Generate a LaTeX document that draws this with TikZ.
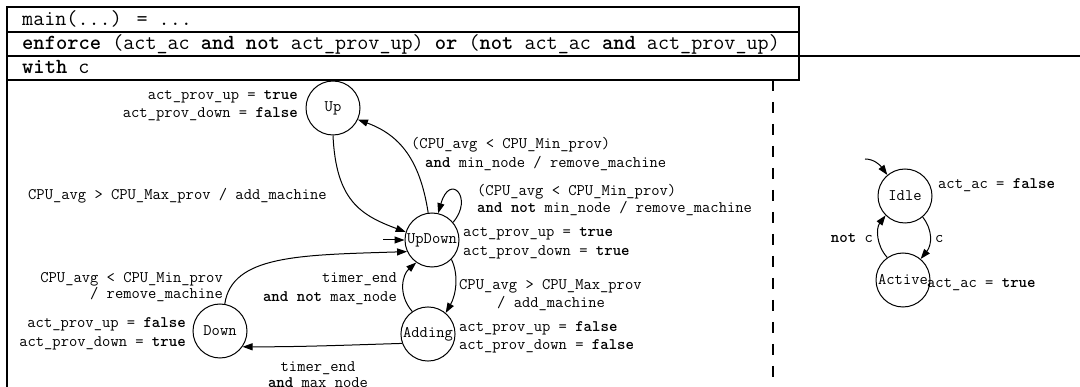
\documentclass[tikz,border=0pt]{standalone}
\usetikzlibrary{arrows.meta}
\newcommand\lblfont{\ttfamily\fontsize{16.1}{19}\selectfont}
\newcommand\tabfont{\ttfamily\fontsize{21.5}{25}\selectfont}
\begin{document}
\begin{tikzpicture}[x=1pt,y=-1pt,
  state/.style={draw,circle,minimum size=54pt,inner sep=1pt,line width=1pt,font=\lblfont},
  edge/.style={line width=1pt,-{Triangle[length=10pt,width=7pt]}},
  lbl/.style={inner sep=0pt,font=\lblfont},
  tlbl/.style={inner sep=0pt,font=\tabfont,anchor=base west},
  frame/.style={line width=2pt}]
\useasboundingbox (0,0) rectangle (1080,387);
% frame
\draw[frame] (7,400) -- (7,7) -- (799,7) -- (799,80) -- (7,80);
\draw[frame] (7,32) -- (799,32);
\draw[frame] (7,56) -- (1080,56);
\draw[line width=2pt,dash pattern=on 11pt off 11pt] (773,80) -- (773,400);
\node[tlbl] (t1) at (22,26) {main(...) = ...};
\node[tlbl] (t2) at (22,50) {\textbf{enforce} (act\_ac \textbf{and not} act\_prov\_up) \textbf{or} (\textbf{not} act\_ac \textbf{and} act\_prov\_up)};
\node[tlbl] (t3) at (22,74) {\textbf{with} c};
% states
\node[state] (Up) at (333,108) {Up};
\node[state] (UpDown) at (432,240) {UpDown};
\node[state] (Adding) at (428,334) {Adding};
\node[state] (Down) at (220,331) {Down};
\node[state] (Idle) at (905,196) {Idle};
\node[state] (Active) at (903,280) {Active};
% state outputs
\node[lbl,anchor=base east] (upo1) at (298,100) {act\_prov\_up = \textbf{true}};
\node[lbl,anchor=base east] (upo2) at (298,118) {act\_prov\_down = \textbf{false}};
\node[lbl,anchor=base west] (udo1) at (463,237) {act\_prov\_up = \textbf{true}};
\node[lbl,anchor=base west] (udo2) at (463,256) {act\_prov\_down = \textbf{true}};
\node[lbl,anchor=base west] (ado1) at (459,332) {act\_prov\_up = \textbf{false}};
\node[lbl,anchor=base west] (ado2) at (459,350) {act\_prov\_down = \textbf{false}};
\node[lbl,anchor=base east] (dno1) at (186,328) {act\_prov\_up = \textbf{false}};
\node[lbl,anchor=base east] (dno2) at (186,347) {act\_prov\_down = \textbf{true}};
\node[lbl,anchor=base west] (ido) at (938,189) {act\_ac = \textbf{false}};
\node[lbl,anchor=base west] (aco) at (927,288) {act\_ac = \textbf{true}};
% transition labels
\node[lbl,anchor=base west] (e1) at (28,200) {CPU\_avg > CPU\_Max\_prov / add\_machine};
\node[lbl,anchor=base west] (e2a) at (411,149) {(CPU\_avg < CPU\_Min\_prov)};
\node[lbl,anchor=base west] (e2b) at (425,168) {\textbf{and} min\_node / remove\_machine};
\node[lbl,anchor=base west] (e3a) at (477,196) {(CPU\_avg < CPU\_Min\_prov)};
\node[lbl,anchor=base west] (e3b) at (477,213) {\textbf{and not} min\_node / remove\_machine};
\node[lbl,anchor=base west] (e4a) at (459,290) {CPU\_avg > CPU\_Max\_prov};
\node[lbl,anchor=base west] (e4b) at (497,308) {/ add\_machine};
\node[lbl,anchor=base east] (e5a) at (397,283) {timer\_end};
\node[lbl,anchor=base east] (e5b) at (397,302) {\textbf{and not} max\_node};
\node[lbl,anchor=base east] (e6a) at (223,283) {CPU\_avg < CPU\_Min\_prov};
\node[lbl,anchor=base east] (e6b) at (223,299) {/ remove\_machine};
\node[lbl,anchor=base] (e7a) at (318,372) {timer\_end};
\node[lbl,anchor=base] (e7b) at (318,388) {\textbf{and} max\_node};
\node[lbl,anchor=base east] (e8) at (873,243) {\textbf{not} c};
\node[lbl,anchor=base west] (e9) at (935,243) {c};
% edges
\coordinate (i1) at (383,240);
\coordinate (i2) at (865,159);
\draw[edge] (i1) -- (UpDown.180);
\draw[edge] (i2) .. controls (874,159) and (880,165) .. (Idle.130);
\draw[edge] (Up.270) .. controls (336,200) and (360,215) .. (UpDown.163);
\draw[edge] (UpDown.98) .. controls (420,160) and (400,135) .. (Up.-25);
\draw[edge] (UpDown.40) .. controls (474,198) and (450,172) .. (UpDown.77);
\draw[edge] (UpDown.-45) .. controls (459,275) and (456,295) .. (Adding.50);
\draw[edge] (Adding.125) .. controls (398,295) and (402,275) .. (UpDown.235);
\draw[edge] (Adding.200) .. controls (350,345) and (300,347) .. (Down.-35);
\draw[edge] (Down.80) .. controls (232,255) and (300,255) .. (UpDown.205);
\draw[edge] (Idle.-50) .. controls (933,230) and (932,245) .. (Active.50);
\draw[edge] (Active.125) .. controls (876,245) and (876,228) .. (Idle.225);
\end{tikzpicture}
\end{document}
